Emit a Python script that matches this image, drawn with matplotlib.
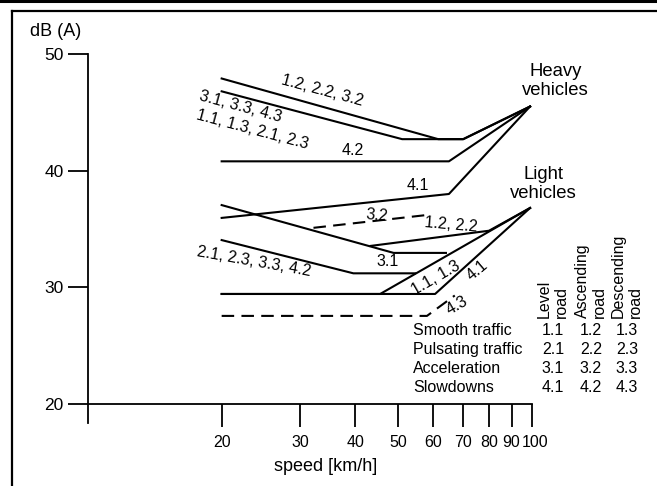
import matplotlib
matplotlib.use('Agg')
import matplotlib.pyplot as plt
from matplotlib.lines import Line2D
from matplotlib.transforms import ScaledTranslation

plt.rcParams['font.family'] = ['Liberation Sans', 'DejaVu Sans']

# ---------------- data ----------------
x_ticks = [20, 30, 40, 50, 60, 70, 80, 90, 100]
y_ticks = [20, 30, 40, 50]

# Heavy vehicles
heavy_12_22_32_speed = [20, 61.5, 70, 99]
heavy_12_22_32_db = [47.9, 42.7, 42.7, 45.5]
heavy_31_etc_speed = [20, 51, 70, 99]
heavy_31_etc_db = [46.8, 42.7, 42.7, 45.5]
heavy_42_speed = [20, 65, 99]
heavy_42_db = [40.8, 40.8, 45.5]
heavy_41_speed = [20, 65, 99]
heavy_41_db = [35.95, 38.0, 45.5]

# Light vehicles
light_32_speed = [32.2, 58]
light_32_db = [35.1, 36.2]
light_31_speed = [20, 48.8, 64]
light_31_db = [37.05, 32.95, 32.95]
light_12_22_speed = [43.3, 80, 99]
light_12_22_db = [33.55, 34.85, 36.8]
light_21_etc_speed = [20, 39.6, 54.5]
light_21_etc_db = [34.05, 31.2, 31.2]
light_11_13_speed = [20, 45.5, 99]
light_11_13_db = [29.43, 29.43, 36.8]
light_41_speed = [20, 60.5, 99]
light_41_db = [29.43, 29.43, 36.8]
light_43_speed = [20, 58, 67]
light_43_db = [27.55, 27.55, 29.3]

row_labels = ["Smooth traffic", "Pulsating traffic", "Acceleration", "Slowdowns"]
col_labels = ["Level\nroad", "Ascending\nroad", "Descending\nroad"]
codes = [["1.1", "1.2", "1.3"],
         ["2.1", "2.2", "2.3"],
         ["3.1", "3.2", "3.3"],
         ["4.1", "4.2", "4.3"]]

# ---------------- figure ----------------
W, H = 657, 486
fig = plt.figure(figsize=(W / 100, H / 100), dpi=100)
ax = fig.add_axes([88 / W, (H - 423) / H, (532 - 88) / W, (423 - 54) / H])
ax.set_xscale('log')
ax.set_xlim(10, 100)
ax.set_ylim(18.37, 50)

for s in ['top', 'right']:
    ax.spines[s].set_visible(False)
ax.spines['bottom'].set_position(('data', 20))
ax.spines['left'].set_linewidth(1.3)
ax.spines['bottom'].set_linewidth(1.3)

ax.xaxis.set_minor_locator(matplotlib.ticker.NullLocator())
ax.set_xticks(x_ticks)
ax.set_xticklabels([str(t) for t in x_ticks])
ax.set_yticks(y_ticks)
ax.set_yticklabels([str(t) for t in y_ticks])
ax.tick_params(axis='x', direction='out', length=16.5, width=1.3, pad=6, labelsize=11.5)
ax.tick_params(axis='y', direction='out', length=14.4, width=1.3, pad=3, labelsize=12.5)

# nudge the crowded last labels apart
xt_labels = ax.get_xticklabels()
xt_labels[-1].set_transform(xt_labels[-1].get_transform() + ScaledTranslation(3.5 / 100, 0, fig.dpi_scale_trans))
xt_labels[-2].set_transform(xt_labels[-2].get_transform() + ScaledTranslation(-1.0 / 100, 0, fig.dpi_scale_trans))

lw = 1.5
k = 'black'
ax.plot(heavy_12_22_32_speed, heavy_12_22_32_db, color=k, lw=lw)
ax.plot(heavy_31_etc_speed, heavy_31_etc_db, color=k, lw=lw)
ax.plot(heavy_42_speed, heavy_42_db, color=k, lw=lw)
ax.plot(heavy_41_speed, heavy_41_db, color=k, lw=lw)

ax.plot(light_32_speed, light_32_db, color=k, lw=lw, dashes=(6, 3.5))
ax.plot(light_31_speed, light_31_db, color=k, lw=lw)
ax.plot(light_12_22_speed, light_12_22_db, color=k, lw=lw)
ax.plot(light_21_etc_speed, light_21_etc_db, color=k, lw=lw)
ax.plot(light_11_13_speed, light_11_13_db, color=k, lw=lw)
ax.plot(light_41_speed, light_41_db, color=k, lw=lw)
ax.plot(light_43_speed, light_43_db, color=k, lw=lw, dashes=(6, 3.5))

fs = 11.5
def lab(x, y, s, rot=0, size=fs, **kw):
    ax.text(x, y, s, rotation=rot, fontsize=size, ha='center', va='center',
            rotation_mode='anchor', **kw)

lab(33.7, 46.9, "1.2, 2.2, 3.2", -15)
lab(22.1, 45.46, "3.1, 3.3, 4.3", -15)
lab(23.5, 43.49, "1.1, 1.3, 2.1, 2.3", -15)
lab(39.4, 41.77, "4.2")
lab(55.4, 38.69, "4.1")
lab(44.8, 36.2, "3.2", -5)
lab(65.8, 35.35, "1.2, 2.2", -5)
lab(47.2, 32.18, "3.1")
lab(23.7, 32.18, "2.1, 2.3, 3.3, 4.2", -10)
lab(60.6, 30.8, "1.1, 1.3", 30)
lab(75.2, 31.49, "4.1", 40)
lab(67.8, 28.4, "4.3", 30)
lab(113, 47.7, "Heavy\nvehicles", size=13.3, multialignment='center')
lab(106, 38.86, "Light\nvehicles", size=13.3, multialignment='center')

# axis labels
fig.text(56 / W, 1 - 32 / H, "dB (A)", fontsize=13, ha='center', va='center')
fig.text(326 / W, 1 - 466 / H, "speed [km/h]", fontsize=13, ha='center', va='center')

# legend table
col_x = [553, 591, 627]
row_y = [330, 349, 368, 387]
for cx, cl in zip(col_x, col_labels):
    fig.text(cx / W, 1 - 318 / H, cl, fontsize=fs, rotation=90, ha='center',
             va='bottom', multialignment='left')
for ry, rl, rc in zip(row_y, row_labels, codes):
    fig.text(413 / W, 1 - ry / H, rl, fontsize=fs, ha='left', va='center')
    for cx, c in zip(col_x, rc):
        fig.text(cx / W, 1 - ry / H, c, fontsize=fs, ha='center', va='center')

# frame
fig.add_artist(Line2D([0, 1], [1 - 1 / H, 1 - 1 / H], transform=fig.transFigure, color=k, lw=2.2))
fig.add_artist(Line2D([12 / W, 1], [1 - 11.5 / H, 1 - 11.5 / H], transform=fig.transFigure, color=k, lw=1.6))
fig.add_artist(Line2D([12 / W, 12 / W], [1 - 11.5 / H, 0], transform=fig.transFigure, color=k, lw=1.6))

fig.savefig('out.png', dpi=100)
